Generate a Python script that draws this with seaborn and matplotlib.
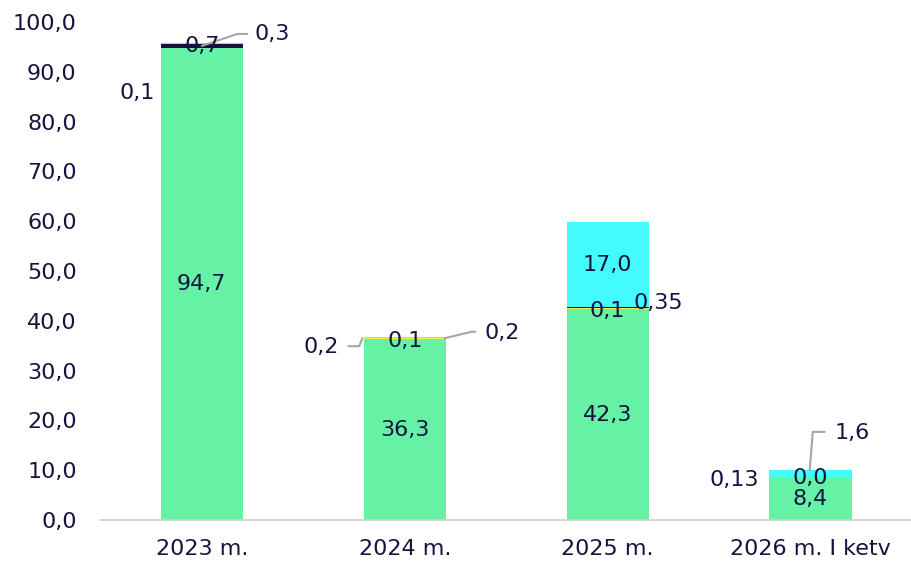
import numpy as np
import pandas as pd
import matplotlib
matplotlib.use("Agg")
import matplotlib.pyplot as plt
import seaborn as sns

# data
years = ['2023 m.', '2024 m.', '2025 m.', '2026 m. I ketv']
green = [94.7, 36.3, 42.3, 8.4]
yellow = [0.1, 0.2, 0.35, 0.13]
navy = [0.7, 0.1, 0.1, 0.0]
cyan = [0.3, 0.2, 17.0, 1.6]

green_lbl = ['94,7', '36,3', '42,3', '8,4']
yellow_lbl = ['0,1', '0,2', '0,35', '0,13']
navy_lbl = ['0,7', '0,1', '0,1', '0,0']
cyan_lbl = ['0,3', '0,2', '17,0', '1,6']

txt = '#17133f'
colors = {'green': '#66f2a5', 'yellow': '#f5f04a', 'navy': '#121245', 'cyan': '#44fbfb'}

sns.set_theme(style='white')
plt.rcParams['font.family'] = ['DejaVu Sans']

fig = plt.figure(figsize=(9.12, 5.64), dpi=100)
ax = fig.add_axes([0.11, 0.078, 0.89, 0.883])

df = pd.DataFrame({'year': years, 'green': green, 'yellow': yellow, 'navy': navy, 'cyan': cyan})
bottom = np.zeros(len(df))
for col in ['green', 'yellow', 'navy', 'cyan']:
    sns.barplot(data=df, x='year', y=col, color=colors[col], width=0.405,
                bottom=bottom, ax=ax, saturation=1, linewidth=0)
    bottom = bottom + df[col].values

ax.set_ylim(0, 100)
ax.set_xlim(-0.5, 3.5)
ax.set_yticks(np.arange(0, 101, 10))
ax.set_yticklabels([f'{v:.1f}'.replace('.', ',') for v in np.arange(0, 101, 10)])
ax.set_xlabel('')
ax.set_ylabel('')
ax.tick_params(axis='both', colors=txt, labelsize=16, length=0)
ax.tick_params(axis='y', pad=17)
ax.tick_params(axis='x', pad=14)
for s in ['top', 'right', 'left']:
    ax.spines[s].set_visible(False)
ax.spines['bottom'].set_color('#d0d0d0')
ax.spines['bottom'].set_linewidth(1.2)

fs = 16
# green labels in the middle of the segments
for i, v in enumerate(green):
    ax.text(i, v / 2, green_lbl[i], ha='center', va='center', color=txt, fontsize=fs)

top_g = np.array(green)
lc = '#a6a6a6'

# 2023
ax.text(-0.23, 85.7, yellow_lbl[0], ha='right', va='center', color=txt, fontsize=fs)
ax.text(0, 95.2, navy_lbl[0], ha='center', va='center', color=txt, fontsize=fs)
ax.plot([0.0, 0.176, 0.225], [95.2, 97.6, 97.6], color=lc, lw=1.5)
ax.text(0.258, 97.6, cyan_lbl[0], ha='left', va='center', color=txt, fontsize=fs)

# 2024
ax.text(0.674, 34.7, yellow_lbl[1], ha='right', va='center', color=txt, fontsize=fs)
ax.plot([0.722, 0.776, 0.791], [34.9, 34.9, 36.5], color=lc, lw=1.5)
ax.text(1, 35.9, navy_lbl[1], ha='center', va='center', color=txt, fontsize=fs)
ax.plot([1.197, 1.329, 1.348], [36.5, 37.8, 37.8], color=lc, lw=1.5)
ax.text(1.392, 37.5, cyan_lbl[1], ha='left', va='center', color=txt, fontsize=fs)

# 2025
ax.text(2, 42.0, navy_lbl[2], ha='center', va='center', color=txt, fontsize=fs)
ax.text(2.126, 43.6, yellow_lbl[2], ha='left', va='center', color=txt, fontsize=fs)
ax.text(2, top_g[2] + yellow[2] + navy[2] + cyan[2] / 2, cyan_lbl[2],
        ha='center', va='center', color=txt, fontsize=fs)

# 2026
ax.text(2.747, 8.0, yellow_lbl[3], ha='right', va='center', color=txt, fontsize=fs)
ax.text(3, 8.4, navy_lbl[3], ha='center', va='center', color=txt, fontsize=fs)
ax.plot([2.996, 3.011, 3.07], [10.0, 17.7, 17.7], color=lc, lw=1.5)
ax.text(3.119, 17.5, cyan_lbl[3], ha='left', va='center', color=txt, fontsize=fs)

fig.savefig('out.png', dpi=100)
